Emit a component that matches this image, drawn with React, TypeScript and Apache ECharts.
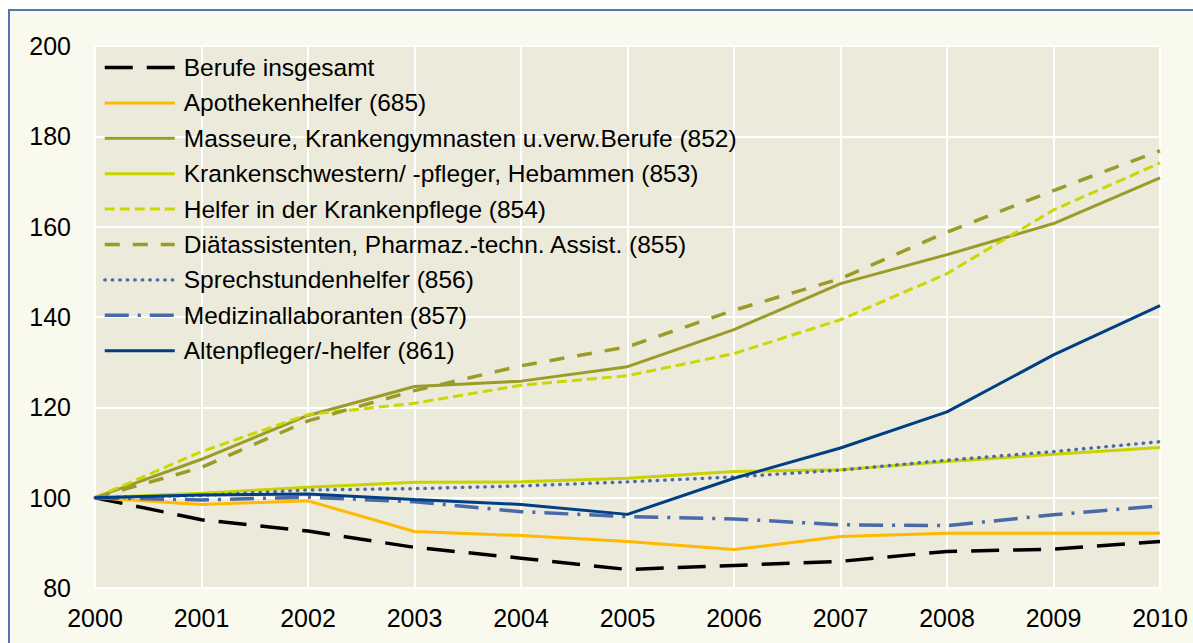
import React, { useEffect, useRef } from "react";
import * as echarts from "echarts";

const years = ["2000", "2001", "2002", "2003", "2004", "2005", "2006", "2007", "2008", "2009", "2010"];
const yTicks = { min: 80, max: 200, interval: 20 };

const berufe = [100, 95.1, 92.6, 89, 86.6, 84.1, 85, 85.9, 88.1, 88.6, 90.3];
const apotheken = [100, 98.5, 99.3, 92.5, 91.6, 90.3, 88.5, 91.4, 92.1, 92.1, 92.1];
const masseure = [100, 108.5, 118.2, 124.6, 125.8, 129, 137.2, 147.4, 153.8, 160.7, 170.8];
const krankenschwestern = [100, 101, 102.3, 103.4, 103.5, 104.3, 105.8, 106.2, 108, 109.6, 111.1];
const helfer = [100, 110.2, 118.4, 120.9, 124.9, 127, 131.9, 139.4, 149.6, 163.7, 174.1];
const diaet = [100, 106.7, 117, 123.7, 129.2, 133.4, 141.5, 148.5, 158.8, 168, 176.8];
const sprech = [100, 100.5, 101.7, 102, 102.6, 103.5, 104.6, 106.1, 108.3, 110.2, 112.4];
const medizin = [100, 99.5, 100.1, 99.1, 96.9, 95.8, 95.3, 94, 93.8, 96.2, 98.2];
const alten = [100, 100.6, 100.8, 99.6, 98.5, 96.3, 104.3, 111, 119, 131.6, 142.5];

const names = [
  "Berufe insgesamt",
  "Apothekenhelfer (685)",
  "Masseure, Krankengymnasten u.verw.Berufe (852)",
  "Krankenschwestern/ -pfleger, Hebammen (853)",
  "Helfer in der Krankenpflege (854)",
  "Diätassistenten, Pharmaz.-techn. Assist. (855)",
  "Sprechstundenhelfer (856)",
  "Medizinallaboranten (857)",
  "Altenpfleger/-helfer (861)",
];

export default function App() {
  const ref = useRef<HTMLDivElement>(null);
  useEffect(() => {
    const chart = echarts.init(ref.current!, undefined, { renderer: "svg" });
    const font = "'Liberation Sans', Arial, sans-serif";
    const mk = (name: string, data: number[], color: string, type: any, width = 3, cap: any = "butt") => ({
      name,
      type: "line",
      data,
      symbol: "none",
      showSymbol: false,
      lineStyle: { color, width, type, cap },
      itemStyle: { color },
    });
    chart.setOption({
      animation: false,
      backgroundColor: "#ffffff",
      graphic: [
        {
          type: "rect",
          shape: { x: 9, y: 10, width: 1200, height: 650 },
          style: { fill: "#FAF9EE", stroke: "#5874AC", lineWidth: 2 },
          z: -10,
          silent: true,
        },
      ],
      grid: {
        left: 95,
        right: 33,
        top: 46,
        bottom: 55,
        show: true,
        backgroundColor: "#ECEADB",
        borderColor: "#ffffff",
        borderWidth: 2,
      },
      legend: {
        orient: "vertical",
        left: 98,
        top: 50,
        itemWidth: 70,
        itemHeight: 14,
        itemGap: 10.4,
        itemStyle: { opacity: 0 },
        lineStyle: { width: "inherit" },
        textStyle: { fontFamily: font, fontSize: 24.5, color: "#000", padding: [0, 0, 0, 4] },
        data: names,
      },
      xAxis: {
        type: "category",
        data: years,
        boundaryGap: false,
        axisLine: { show: false },
        axisTick: { show: false },
        axisLabel: { fontFamily: font, fontSize: 25, color: "#000", margin: 17 },
        splitLine: { show: true, lineStyle: { color: "#ffffff", width: 2 } },
      },
      yAxis: {
        type: "value",
        min: yTicks.min,
        max: yTicks.max,
        interval: yTicks.interval,
        axisLine: { show: false },
        axisTick: { show: false },
        axisLabel: { fontFamily: font, fontSize: 25, color: "#000", margin: 24 },
        splitLine: { show: true, lineStyle: { color: "#ffffff", width: 2 } },
      },
      series: [
        mk(names[0], berufe, "#000000", [28, 14], 3.5),
        mk(names[1], apotheken, "#FFB900", "solid"),
        mk(names[2], masseure, "#9B9B28", "solid"),
        mk(names[3], krankenschwestern, "#C8D300", "solid"),
        mk(names[4], helfer, "#CCD600", [10, 5]),
        mk(names[5], diaet, "#9B9B28", [15, 13], 3.5),
        mk(names[6], sprech, "#4A69A8", [0.5, 7], 3.4, "round"),
        mk(names[7], medizin, "#4A69A8", [24, 9, 3, 9], 3.5),
        mk(names[8], alten, "#003F84", "solid"),
      ],
    });
    return () => chart.dispose();
  }, []);
  return <div ref={ref} style={{ position: "fixed", left: 0, top: 0, width: 1193, height: 643 }} />;
}
